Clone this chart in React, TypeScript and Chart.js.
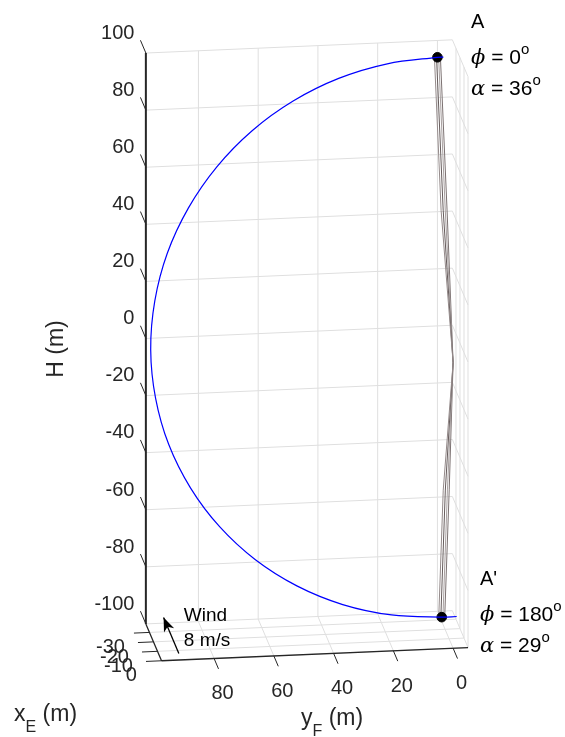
import React, { useEffect, useRef } from 'react';
import { Chart, registerables } from 'chart.js';

Chart.register(...registerables);

const CANVAS_W = 565;
const CANVAS_H = 737;

// Axis limits (m)
const xELimits = [-39, 0];
const yFLimits = [-5, 97.6];
const hLimits = [-100, 100];

// Tick values
const hTicks = [-100, -80, -60, -40, -20, 0, 20, 40, 60, 80, 100];
const yFTicks = [0, 20, 40, 60, 80];
const xETicks = [-30, -20, -10, 0];

// Kite flight path (blue)
const pathXE = [-39.0, -39.0, -38.92, -38.68, -38.28, -37.75, -37.09, -36.33, -35.48, -34.58, -33.65, -32.72, -31.82, -30.98, -30.21, -29.55, -29.02, -28.62, -28.38, -28.3, -28.3];
const pathYF = [-2, 0, 16.8, 33.1, 48.4, 62.2, 74.1, 83.7, 90.9, 95.2, 96.7, 95.2, 90.9, 83.7, 74.1, 62.2, 48.4, 33.1, 16.8, 0, -5];
const pathH = [94.1, 94.1, 92.6, 88.3, 81.2, 71.6, 59.7, 46.0, 30.7, 14.5, -2.2, -18.9, -35.1, -50.4, -64.1, -76.0, -85.6, -92.7, -97.0, -98.5, -98.5];

// Kite positions A and A'
const kiteNames = ['A', "A'"];
const kitePhi = [0, 180];
const kiteAlpha = [36, 29];
const kiteXE = [-39, -28.3];
const kiteYF = [0, 0];
const kiteH = [94.1, -98.5];

// Ground station
const groundXE = 0;
const groundYF = 0;
const groundH = 0;

// Tether strands (small y_F offsets)
const strandKiteOffsetYF = [1.0, 0.3, -0.4, -1.0];
const strandMidOffsetYF = [1.4, 0.7, 0.0, -0.6];
const strandColors = ['#948a8a', '#665c5c', '#a8a0a0', '#7c7272'];

// Wind arrow
const windXE = [0, -38];
const windYF = [91.8, 91.8];
const windH = [-97.7, -97.7];
const windText = ['Wind', '8 m/s'];

const SANS = '"Liberation Sans", Arial, Helvetica, sans-serif';
const SERIF = '"DejaVu Serif", "Liberation Serif", serif';

// 3-D view projection onto the canvas plane
const VIEW = { ox: 143, oy: 48, yfX: 3.05, yfY: 0.131, hY: 2.9, xeX: 0.41, xeY: 0.96 };

function project(xE: number, yF: number, h: number) {
  const dy = yFLimits[1] - yF;
  const dx = xE - xELimits[0];
  return {
    x: VIEW.ox + dy * VIEW.yfX + dx * VIEW.xeX,
    y: VIEW.oy + (hLimits[1] - h) * VIEW.hY - dy * VIEW.yfY + dx * VIEW.xeY,
  };
}

const GAP = { x: NaN, y: NaN };

function seg(arr: any[], a: any, b: any) {
  arr.push(a, b, GAP);
}

function drawRich(ctx: CanvasRenderingContext2D, x: number, y: number, parts: { t: string; f: string; dy?: number }[]) {
  let cx = x;
  for (const p of parts) {
    ctx.font = p.f;
    ctx.fillText(p.t, cx, y + (p.dy || 0));
    cx += ctx.measureText(p.t).width;
  }
}

export default function App() {
  const ref = useRef<HTMLCanvasElement>(null);

  useEffect(() => {
    const canvas = ref.current;
    if (!canvas) return;
    const [x0, x1] = xELimits;
    const [y0, y1] = yFLimits;
    const [h0, h1] = hLimits;

    // grid on back wall, right wall and floor
    const grid: any[] = [];
    for (const h of hTicks) {
      seg(grid, project(x0, y1, h), project(x0, y0, h));
      seg(grid, project(x0, y0, h), project(x1, y0, h));
    }
    for (const y of yFTicks) {
      seg(grid, project(x0, y, h0), project(x0, y, h1));
      seg(grid, project(x0, y, h0), project(x1, y, h0));
    }
    for (const x of xETicks) {
      seg(grid, project(x, y0, h0), project(x, y0, h1));
      seg(grid, project(x, y1, h0), project(x, y0, h0));
    }

    // axis lines
    const hAxis = [project(x0, y1, h0), project(x0, y1, h1)];
    const baseAxes: any[] = [];
    seg(baseAxes, project(x0, y1, h0), project(x1, y1, h0));
    seg(baseAxes, project(x1, y1, h0), project(x1, y0, h0));
    const ticks: any[] = [];
    for (const h of hTicks) seg(ticks, project(x0, y1, h), project(x0 - 13.5, y1, h));
    for (const x of xETicks) seg(ticks, project(x, y1, h0), project(x, y1 + 5.2, h0));
    for (const y of yFTicks) seg(ticks, project(x1, y, h0), project(x1 + 11, y, h0));

    // tethers
    const tetherSets = strandColors.map((c, s) => {
      const pts: any[] = [];
      for (let k = 0; k < kiteXE.length; k++) {
        const kp = project(kiteXE[k], kiteYF[k] + strandKiteOffsetYF[s], kiteH[k]);
        const mp = project(
          (kiteXE[k] + groundXE) / 2,
          (kiteYF[k] + groundYF) / 2 + strandMidOffsetYF[s],
          (kiteH[k] + groundH) / 2
        );
        const gp = project(groundXE, groundYF, groundH);
        pts.push(kp, mp, gp, GAP);
      }
      return {
        data: pts,
        showLine: true,
        borderColor: c,
        borderWidth: 1,
        pointRadius: 0,
        order: 5,
      };
    });

    const path = pathXE.map((_, i) => project(pathXE[i], pathYF[i], pathH[i]));
    const kites = kiteXE.map((_, i) => project(kiteXE[i], kiteYF[i], kiteH[i]));
    const wind = windXE.map((_, i) => project(windXE[i], windYF[i], windH[i]));

    const overlay = {
      id: 'overlay',
      afterDatasetsDraw(chart: any) {
        const ctx: CanvasRenderingContext2D = chart.ctx;
        const sx = chart.scales.x;
        const sy = chart.scales.y;
        const px = (p: { x: number; y: number }) => ({ x: sx.getPixelForValue(p.x), y: sy.getPixelForValue(p.y) });
        ctx.save();

        // tick labels
        ctx.fillStyle = '#262626';
        ctx.font = `20px ${SANS}`;
        ctx.textAlign = 'right';
        ctx.textBaseline = 'middle';
        for (const h of hTicks) {
          const a = px(project(x0 - 13.5, y1, h));
          ctx.fillText(String(h), a.x - 6, a.y - 7);
        }
        for (const x of xETicks) {
          const a = px(project(x, y1 + 5.2, h0));
          ctx.fillText(String(x), a.x - 9, a.y + 14.5);
        }
        ctx.textAlign = 'center';
        for (const y of yFTicks) {
          const a = px(project(x1 + 11, y, h0));
          ctx.fillText(String(y), a.x + 4, a.y + 25);
        }

        // axis titles
        ctx.textAlign = 'left';
        ctx.textBaseline = 'alphabetic';
        drawRich(ctx, 14, 721, [
          { t: 'x', f: `23px ${SANS}` },
          { t: 'E', f: `16px ${SANS}`, dy: 11 },
          { t: ' (m)', f: `23px ${SANS}` },
        ]);
        drawRich(ctx, 301, 725, [
          { t: 'y', f: `23px ${SANS}` },
          { t: 'F', f: `16px ${SANS}`, dy: 11 },
          { t: ' (m)', f: `23px ${SANS}` },
        ]);
        ctx.save();
        ctx.translate(63, 349);
        ctx.rotate(-Math.PI / 2);
        ctx.textAlign = 'center';
        ctx.font = `23px ${SANS}`;
        ctx.fillText('H (m)', 0, 0);
        ctx.restore();

        // kite annotations
        ctx.fillStyle = '#000';
        const annLeft = [471, 480];
        const annTop = [28, 585];
        for (let k = 0; k < kiteNames.length; k++) {
          const lx = annLeft[k];
          const ly = annTop[k];
          ctx.font = `20px ${SANS}`;
          ctx.fillText(kiteNames[k], lx, ly);
          drawRich(ctx, lx, ly + 36, [
            { t: '\u03D5', f: `italic 21px ${SERIF}` },
            { t: ` = ${kitePhi[k]}`, f: `21px ${SANS}` },
            { t: 'o', f: `15px ${SANS}`, dy: -10 },
          ]);
          drawRich(ctx, lx, ly + 67, [
            { t: '\u03B1', f: `italic 21px ${SERIF}` },
            { t: ` = ${kiteAlpha[k]}`, f: `21px ${SANS}` },
            { t: 'o', f: `15px ${SANS}`, dy: -10 },
          ]);
        }

        // wind arrow head + text
        const tail = px(wind[0]);
        const head = px(wind[1]);
        const ang = Math.atan2(head.y - tail.y, head.x - tail.x);
        const L = 14;
        const Wd = 5.5;
        const bx = head.x - L * Math.cos(ang);
        const by = head.y - L * Math.sin(ang);
        const nx = -Math.sin(ang);
        const ny = Math.cos(ang);
        const nbx = head.x - L * 0.72 * Math.cos(ang);
        const nby = head.y - L * 0.72 * Math.sin(ang);
        ctx.beginPath();
        ctx.moveTo(head.x, head.y);
        ctx.lineTo(bx + nx * Wd, by + ny * Wd);
        ctx.lineTo(nbx, nby);
        ctx.lineTo(bx - nx * Wd, by - ny * Wd);
        ctx.closePath();
        ctx.fill();
        ctx.font = `19px ${SANS}`;
        ctx.textBaseline = 'middle';
        ctx.fillText(windText[0], tail.x + 5, tail.y - 38);
        ctx.fillText(windText[1], tail.x + 5, tail.y - 13);

        ctx.restore();
      },
    };

    const chart = new Chart(canvas, {
      type: 'scatter',
      data: {
        datasets: [
          { data: grid, showLine: true, borderColor: '#dfdfdf', borderWidth: 1, pointRadius: 0, order: 10 },
          { data: baseAxes, showLine: true, borderColor: '#262626', borderWidth: 1.3, pointRadius: 0, order: 9 },
          { data: ticks, showLine: true, borderColor: '#262626', borderWidth: 1, pointRadius: 0, order: 9 },
          { data: hAxis, showLine: true, borderColor: '#262626', borderWidth: 2, pointRadius: 0, order: 9 },
          ...tetherSets,
          {
            data: kites,
            showLine: false,
            pointRadius: 4.8,
            pointBackgroundColor: '#000',
            pointBorderColor: '#000',
            pointBorderWidth: 1,
            order: 3,
          },
          { data: path, showLine: true, borderColor: '#0000ff', borderWidth: 1.2, pointRadius: 0, tension: 0.35, order: 2 },
          { data: wind, showLine: true, borderColor: '#000', borderWidth: 1.3, pointRadius: 0, order: 1 },
        ] as any,
      },
      options: {
        responsive: false,
        animation: false,
        devicePixelRatio: 1,
        events: [],
        layout: { padding: 0 },
        plugins: { legend: { display: false }, tooltip: { enabled: false } },
        scales: {
          x: { type: 'linear', min: 0, max: CANVAS_W, display: false },
          y: { type: 'linear', min: 0, max: CANVAS_H, reverse: true, display: false },
        },
      } as any,
      plugins: [overlay],
    });
    return () => chart.destroy();
  }, []);

  return (
    <div style={{ position: 'absolute', left: 0, top: 0, width: CANVAS_W, height: CANVAS_H, background: '#fff' }}>
      <canvas ref={ref} width={CANVAS_W} height={CANVAS_H} style={{ display: 'block' }} />
    </div>
  );
}
